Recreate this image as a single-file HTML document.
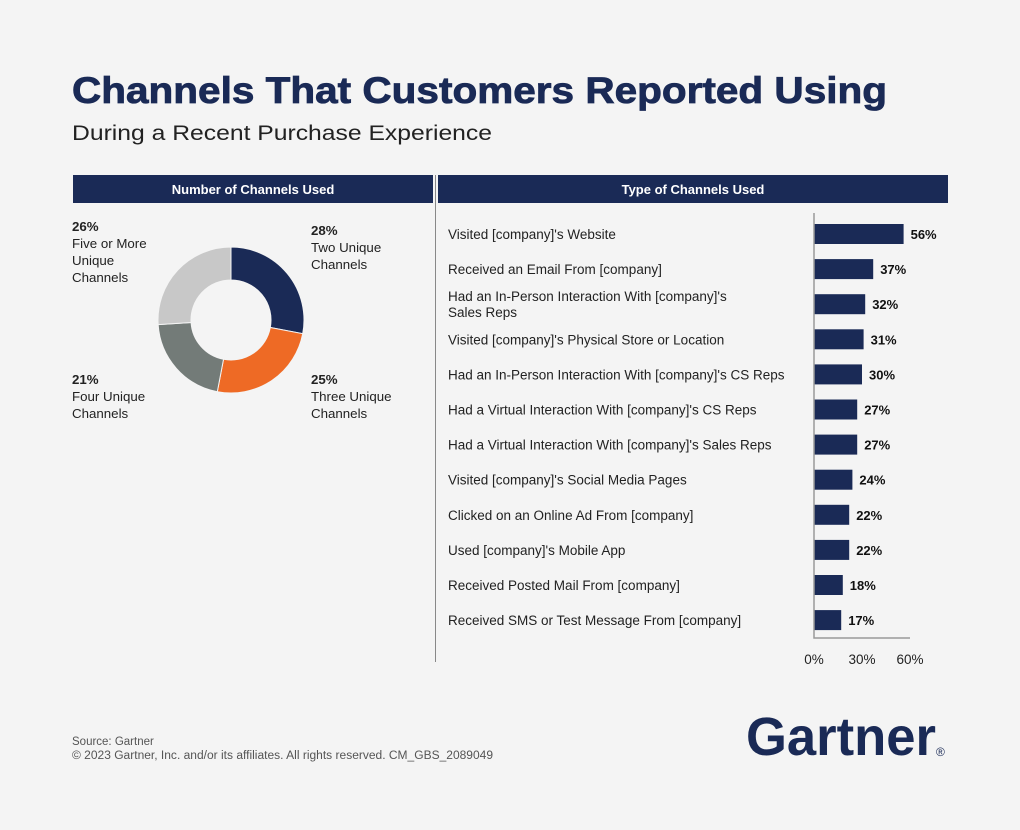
<!DOCTYPE html>
<html><head><meta charset="utf-8"><style>
body{margin:0;background:#f4f4f4;}
svg{display:block;font-family:"Liberation Sans",sans-serif;}
</style></head><body>
<svg id="c" width="1020" height="830" viewBox="0 0 1020 830">
<rect width="1020" height="830" fill="#f4f4f4"/>
<text x="72" y="103" font-size="37" font-weight="bold" fill="#1a2a56" stroke="#1a2a56" stroke-width="0.8" textLength="815" lengthAdjust="spacingAndGlyphs">Channels That Customers Reported Using</text>
<text x="72" y="140" font-size="21" fill="#222" textLength="420" lengthAdjust="spacingAndGlyphs">During a Recent Purchase Experience</text>
<rect x="73" y="175" width="360" height="28" fill="#1a2a56"/>
<text x="253" y="194" font-size="13" font-weight="bold" fill="#fff" text-anchor="middle">Number of Channels Used</text>
<rect x="438" y="175" width="510" height="28" fill="#1a2a56"/>
<text x="693" y="194" font-size="13" font-weight="bold" fill="#fff" text-anchor="middle">Type of Channels Used</text>
<line x1="435.5" y1="175" x2="435.5" y2="662" stroke="#888" stroke-width="1"/>
<g id="donut"></g>
<g id="bars"></g>
<text x="72" y="745" font-size="11.5" fill="#555">Source: Gartner</text>
<text x="72" y="759" font-size="11.5" fill="#555" textLength="421" lengthAdjust="spacingAndGlyphs">© 2023 Gartner, Inc. and/or its affiliates. All rights reserved. CM_GBS_2089049</text>
<text x="746" y="755" font-size="54" font-weight="bold" fill="#1a2a56" textLength="190" lengthAdjust="spacingAndGlyphs">Gartner</text>
<text x="936" y="756" font-size="12" fill="#1a2a56">®</text>
</svg>
<script>
const NS="http://www.w3.org/2000/svg";
const donutLabels=["Two Unique|Channels","Three Unique|Channels","Four Unique|Channels","Five or More|Unique|Channels"];
const donutValues=[28,25,21,26];
const donutColors=["#1a2a56","#ee6a25","#737b78","#c8c8c8"];
const donutLabelPos=[[311,235],[311,384],[72,384],[72,231]];
const categories=["Visited [company]'s Website","Received an Email From [company]","Had an In-Person Interaction With [company]'s|Sales Reps","Visited [company]'s Physical Store or Location","Had an In-Person Interaction With [company]'s CS Reps","Had a Virtual Interaction With [company]'s CS Reps","Had a Virtual Interaction With [company]'s Sales Reps","Visited [company]'s Social Media Pages","Clicked on an Online Ad From [company]","Used [company]'s Mobile App","Received Posted Mail From [company]","Received SMS or Test Message From [company]"];
const values=[56,37,32,31,30,27,27,24,22,22,18,17];
const ticks=[0,30,60];
function mk(t,a,p){const e=document.createElementNS(NS,t);for(const k in a)e.setAttribute(k,a[k]);p.appendChild(e);return e;}
const dg=document.getElementById('donut');
const cx=231,cy=320,R=73,r=40;
const tot=donutValues.reduce((a,b)=>a+b,0);
let ang=0;
donutValues.forEach((v,i)=>{
 const a0=ang,a1=ang+v/tot*2*Math.PI;ang=a1;
 const p=(a,rr)=>[cx+rr*Math.sin(a),cy-rr*Math.cos(a)];
 const [x0,y0]=p(a0,R),[x1,y1]=p(a1,R),[x2,y2]=p(a1,r),[x3,y3]=p(a0,r);
 const lg=(a1-a0)>Math.PI?1:0;
 const s=mk('path',{d:`M${x0},${y0}A${R},${R} 0 ${lg} 1 ${x1},${y1}L${x2},${y2}A${r},${r} 0 ${lg} 0 ${x3},${y3}Z`,fill:donutColors[i],stroke:"#f4f4f4","stroke-width":1},dg);
 
 
 const [lx,ly]=donutLabelPos[i];
 const t=mk('text',{x:lx,y:ly,"font-size":13.3,fill:"#222"},dg);
 
 
 const ts=mk('tspan',{x:lx,"font-weight":"bold"},t);ts.textContent=v+"%";
 donutLabels[i].split("|").forEach(l=>{const q=mk('tspan',{x:lx,dy:17},t);q.textContent=l;});
});
const bg=document.getElementById('bars');
const x0=814,pxPer=1.6,y0=234,step=35.1,bh=20;
const xs=v=>x0+v*pxPer;
const ys=i=>y0+i*step;
values.forEach((v,i)=>{
 const b=mk('rect',{x:x0,y:ys(i)-bh/2,width:xs(v)-x0,height:bh,fill:"#1a2a56"},bg);
 
 
 const vl=mk('text',{x:xs(v)+7,y:ys(i)+5,"font-size":13,"font-weight":"bold",fill:"#111"},bg);
 vl.textContent=v+"%";
 
 
 const lines=categories[i].split("|");
 const cl=mk('text',{x:448,y:ys(i)+5-(lines.length-1)*8,"font-size":13.5,fill:"#222"},bg);
 
 
 lines.forEach((l,j)=>{const q=mk('tspan',{x:448,dy:j?16:0},cl);q.textContent=l;});
});
const ax=mk('path',{d:`M${x0},213V638H${xs(60)}`,fill:"none",stroke:"#999","stroke-width":1.5},bg);


ticks.forEach(t=>{
 const tl=mk('text',{x:xs(t),y:664,"font-size":13.5,fill:"#222","text-anchor":"middle"},bg);
 tl.textContent=t+"%";
 
 
});
</script>
</body></html>
